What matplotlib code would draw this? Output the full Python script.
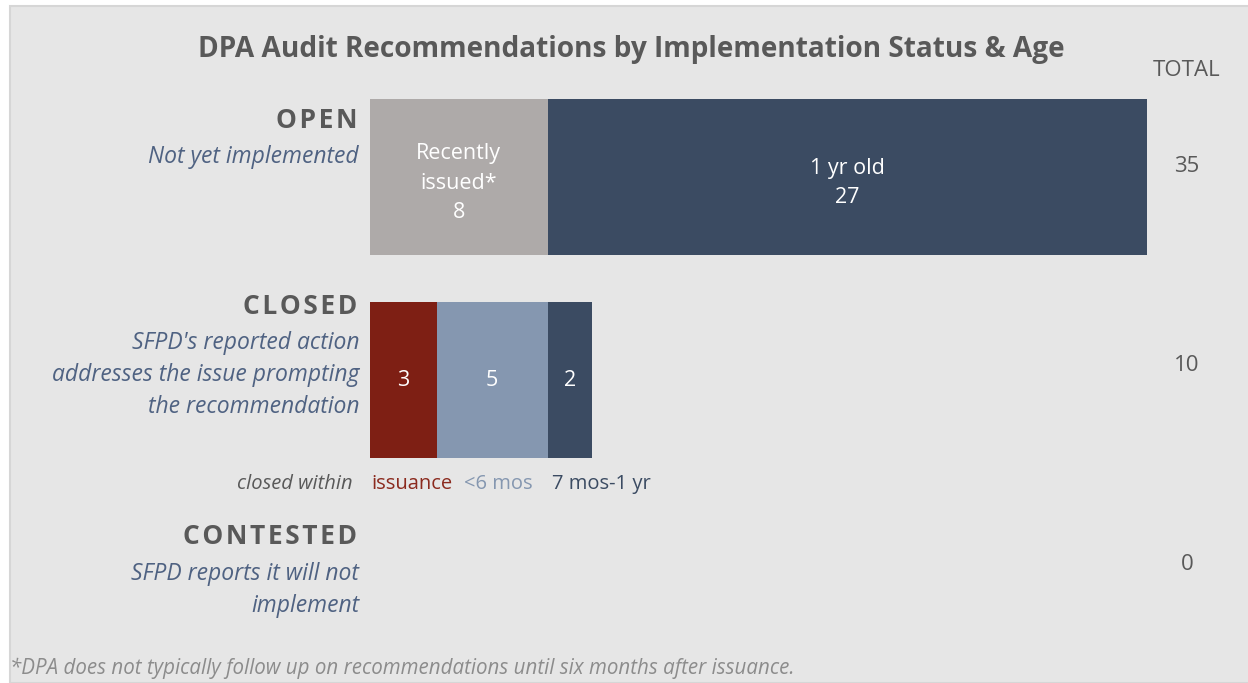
import matplotlib.pyplot as plt
from matplotlib.patches import Rectangle
import numpy as np

plt.rcParams['font.family'] = ['Open Sans', 'DejaVu Sans']

# data
categories = ['OPEN', 'CLOSED', 'CONTESTED']
subtitles = ['Not yet implemented',
             "SFPD's reported action\naddresses the issue prompting\nthe recommendation",
             'SFPD reports it will not\nimplement']
open_labels = ['Recently\nissued*', '1 yr old']
open_values = [8, 27]
closed_labels = ['issuance', '<6 mos', '7 mos-1 yr']
closed_values = [3, 5, 2]
contested_values = []

open_colors = ['#aeaaa9', '#3b4b62']
closed_colors = ['#7e1f14', '#8597b0', '#3b4b62']

W, H = 1248, 683
fig = plt.figure(figsize=(W / 100, H / 100), dpi=100)
fig.patch.set_facecolor('white')

# panel background
fig.patches.append(Rectangle((10 / W, 0), 1.0, (H - 6) / H, transform=fig.transFigure,
                             facecolor='#e6e6e6', edgecolor='#d6d6d6', lw=1.5, zorder=-10))

def px(x, y):
    return x / W, 1 - y / H

# axes: x 0..35 -> 370..1147 px; y -0.5..2.4
top, bottom = 75.5, 664.2
ax = fig.add_axes([370 / W, 1 - bottom / H, 777 / W, (bottom - top) / H])
ax.set_zorder(2)
ax.patch.set_visible(False)
ax.set_xlim(0, 35)
ax.set_ylim(2.4, -0.5)
ax.axis('off')

bh = 0.768
left = 0
for v, c, lab in zip(open_values, open_colors, open_labels):
    ax.barh(0, v, left=left, height=bh, color=c, lw=0)
    ax.text(left + v / 2, 0.03, f'{lab}\n{v}', ha='center', va='center', color='white',
            fontsize=15.5, linespacing=1.55)
    left += v

left = 0
for v, c in zip(closed_values, closed_colors):
    ax.barh(1, v, left=left, height=bh, color=c, lw=0)
    ax.text(left + v / 2, 1, str(v), ha='center', va='center', color='white', fontsize=15.5)
    left += v

# category labels
cat_y = [121, 306, 536]
sub_y = [157, 343, 574]
for cat, sub, cy, sy in zip(categories, subtitles, cat_y, sub_y):
    fig.text(*px(357, cy), '\u200a'.join(cat), ha='right', va='center', fontsize=19,
             fontweight='bold', color='#595959')
    for i, line in enumerate(sub.split('\n')):
        fig.text(*px(359, sy + 32 * i), line, ha='right', va='center', fontsize=16.5,
                 style='italic', color='#4f6282')

# legend for closed
fig.text(*px(353, 484), 'closed within', ha='right', va='center', fontsize=14.5,
         style='italic', color='#595959')
leg_x = [371, 464, 552]
leg_colors = ['#8b2a1e', '#8597b0', '#3b4b62']
for lab, lx, lc in zip(closed_labels, leg_x, leg_colors):
    fig.text(*px(lx, 484), lab, ha='left', va='center', fontsize=14.5, color=lc)

# totals
totals = [sum(open_values), sum(closed_values), sum(contested_values)]
fig.text(*px(1187, 71), 'TOTAL', ha='center', va='center', fontsize=16, color='#595959')
for t, ty in zip(totals, [167, 365, 564]):
    fig.text(*px(1187, ty), str(t), ha='center', va='center', fontsize=16, color='#595959')

# title
fig.text(*px(631, 50), 'DPA Audit Recommendations by Implementation Status & Age',
         ha='center', va='center', fontsize=20.2, fontweight='bold', color='#595959')

# footnote
fig.text(*px(10, 668), '*DPA does not typically follow up on recommendations until six months after issuance.',
         ha='left', va='center', fontsize=14.8, style='italic', color='#8c8c8c')

plt.savefig('out.png', dpi=100, facecolor=fig.get_facecolor())
